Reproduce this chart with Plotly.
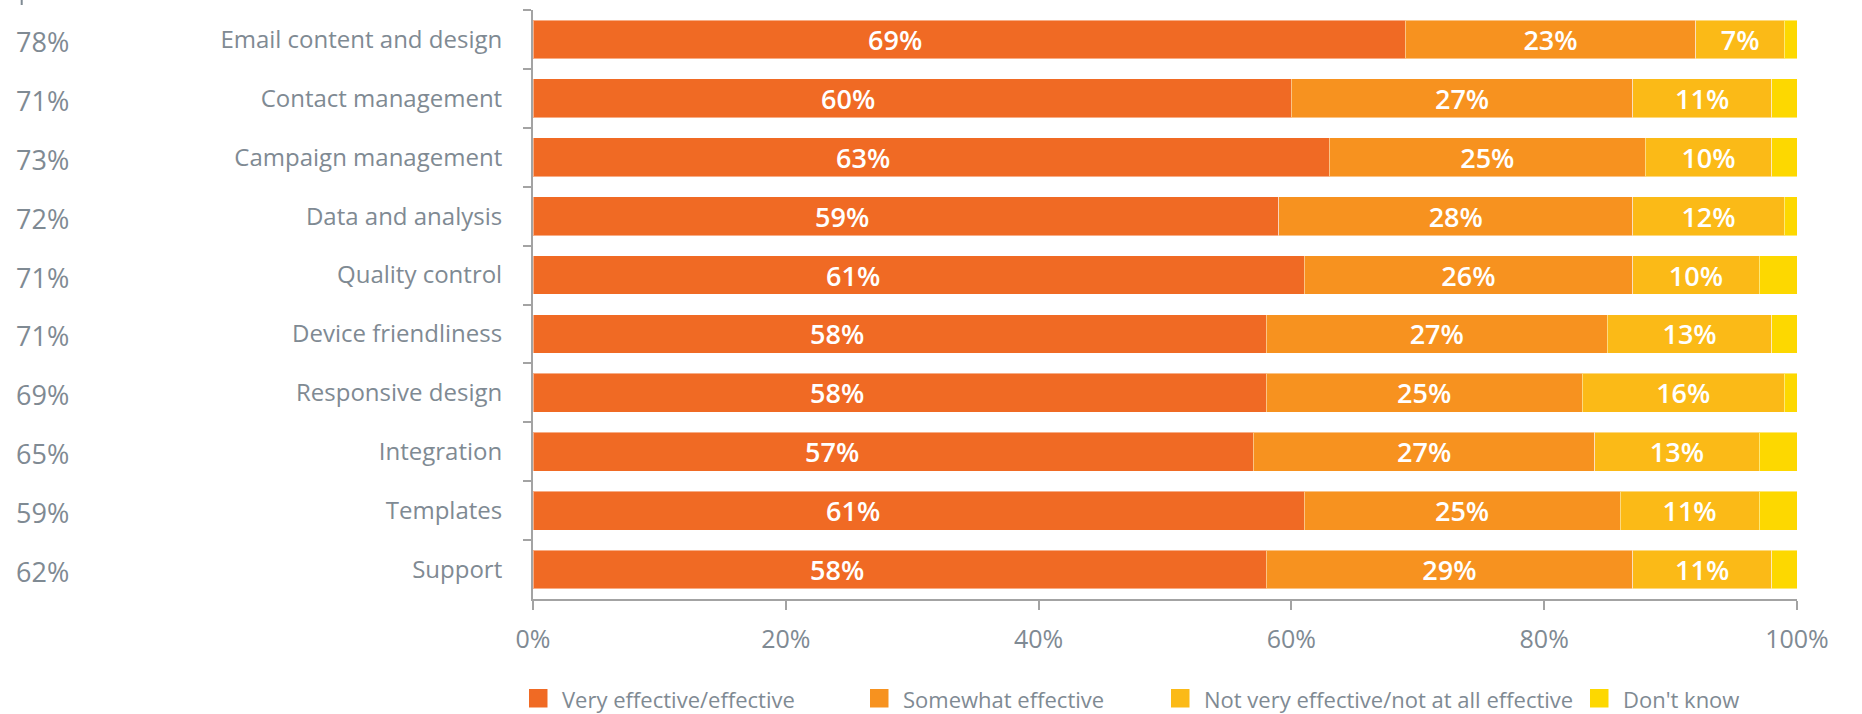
import plotly.graph_objects as go

# Survey results: effectiveness of email marketing capabilities
categories = [
    "Email content and design",
    "Contact management",
    "Campaign management",
    "Data and analysis",
    "Quality control",
    "Device friendliness",
    "Responsive design",
    "Integration",
    "Templates",
    "Support",
]
very_effective = [69, 60, 63, 59, 61, 58, 58, 57, 61, 58]
somewhat_effective = [23, 27, 25, 28, 26, 27, 25, 27, 25, 29]
not_effective = [7, 11, 10, 12, 10, 13, 16, 13, 11, 11]
dont_know = [1, 2, 2, 1, 3, 2, 1, 3, 3, 2]
side_values = [78, 71, 73, 72, 71, 71, 69, 65, 59, 62]

series_names = [
    "Very effective/effective",
    "Somewhat effective",
    "Not very effective/not at all effective",
    "Don't know",
]
series_values = [very_effective, somewhat_effective, not_effective, dont_know]
series_colors = ["#F06A24", "#F7921F", "#FBBA17", "#FDD800"]
# which series carry their value inside the bar segment
inside_labels = [False, True, True, False]

W, H = 1862, 714
# plot area in pixels
PL, PR, PT, PB = 533, 1797, 10, 599

GRAY_TEXT = "#7F8A93"
AXIS_GRAY = "#A3A3A3"
FONT = "Open Sans"
BAR_FONT = dict(family=FONT, size=27, color="white", weight=600)


def px_x(p):
    return (p - PL) / (PR - PL)


def px_y(q):
    return (PB - q) / (PB - PT)


fig = go.Figure()
for name, vals, color, lab in zip(series_names, series_values, series_colors, inside_labels):
    fig.add_trace(go.Bar(
        y=categories,
        x=vals,
        name=name,
        orientation="h",
        marker=dict(color=color, line=dict(color="rgba(255,255,255,0.45)", width=1)),
        text=[f"{v}%" for v in vals] if lab else None,
        textposition="inside" if lab else "none",
        insidetextanchor="middle",
        textfont=BAR_FONT,
        constraintext="none",
        showlegend=False,
        hoverinfo="skip",
    ))

# labels of the first segment sit a little left of the segment centre
for cat, v in zip(categories, very_effective):
    fig.add_annotation(
        x=v * 0.415, xref="x", y=cat, yref="y",
        text=f"{v}%", showarrow=False, xanchor="center", yanchor="middle",
        font=BAR_FONT,
    )

# values listed to the left of the category labels
for cat, v in zip(categories, side_values):
    fig.add_annotation(
        x=px_x(14), xref="paper", y=cat, yref="y",
        text=f"{v}%", showarrow=False, xanchor="left", yanchor="middle",
        yshift=-2,
        font=dict(family=FONT, size=27, color=GRAY_TEXT),
    )

# legend drawn as swatches and labels
legend_x = [529, 870, 1171, 1590]
sq = 18.5
for name, color, lx in zip(series_names, series_colors, legend_x):
    fig.add_shape(
        type="rect", xref="paper", yref="paper",
        x0=px_x(lx), x1=px_x(lx + sq), y0=px_y(707.5), y1=px_y(689),
        fillcolor=color, line=dict(width=0),
    )
    fig.add_annotation(
        x=px_x(lx + 31), xref="paper", y=px_y(699), yref="paper",
        text=name, showarrow=False, xanchor="left", yanchor="middle",
        font=dict(family=FONT, size=22, color=GRAY_TEXT),
    )

# small mark in the top-left corner
fig.add_shape(
    type="line", xref="paper", yref="paper",
    x0=px_x(21.7), x1=px_x(21.7), y0=px_y(0), y1=px_y(5),
    line=dict(color=GRAY_TEXT, width=2),
)

fig.update_layout(
    width=W, height=H,
    barmode="stack",
    bargap=0.34,
    margin=dict(l=PL, r=W - PR, t=PT, b=H - PB, pad=0),
    paper_bgcolor="white",
    plot_bgcolor="white",
    font=dict(family=FONT, color=GRAY_TEXT),
    uniformtext=dict(mode=False),
)
fig.update_xaxes(
    range=[0, 100],
    tickvals=[0, 20, 40, 60, 80, 100],
    ticktext=["0%", "20%", "40%", "60%", "80%", "100%"],
    showgrid=False, zeroline=False,
    showline=True, linecolor=AXIS_GRAY, linewidth=2,
    ticks="outside", ticklen=9, tickwidth=2, tickcolor=AXIS_GRAY,
    tickfont=dict(family=FONT, size=25, color=GRAY_TEXT),
    ticklabelstandoff=8,
)
fig.update_yaxes(
    autorange="reversed",
    showgrid=False, zeroline=False,
    showline=True, linecolor=AXIS_GRAY, linewidth=2,
    ticks="outside", ticklen=8, tickwidth=2, tickcolor=AXIS_GRAY,
    tickson="boundaries",
    tickfont=dict(family=FONT, size=24, color=GRAY_TEXT),
    ticklabelstandoff=24,
)

fig.write_html("out.html")
